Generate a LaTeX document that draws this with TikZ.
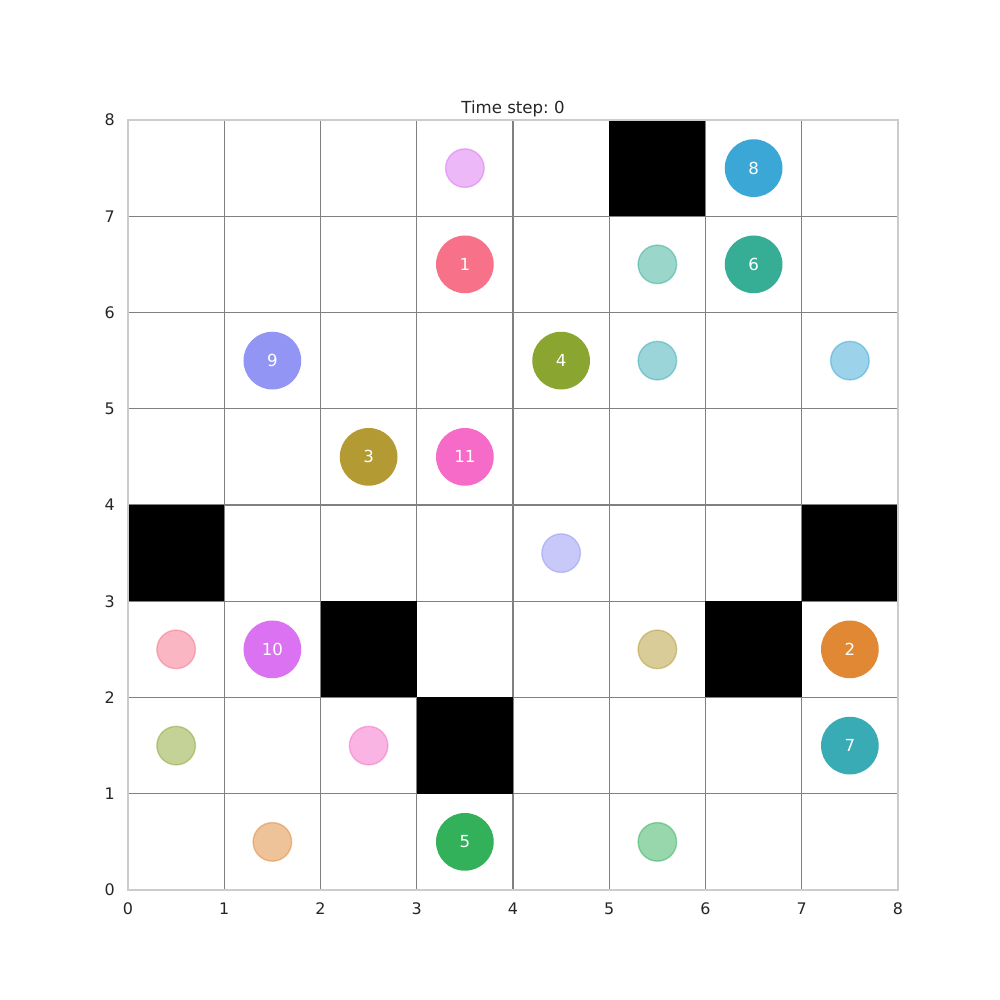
\documentclass[tikz,border=0pt]{standalone}
\usepackage{fontspec}
\setmainfont{DejaVu Sans}
\frenchspacing
\definecolor{txtgray}{HTML}{262626}
\definecolor{gridgray}{HTML}{808080}
\definecolor{framegray}{HTML}{CCCCCC}
\definecolor{ag1}{HTML}{F77189}
\definecolor{ag2}{HTML}{E08834}
\definecolor{ag3}{HTML}{B49A32}
\definecolor{ag4}{HTML}{8AA631}
\definecolor{ag5}{HTML}{33B05A}
\definecolor{ag6}{HTML}{36AE96}
\definecolor{ag7}{HTML}{39ABB4}
\definecolor{ag8}{HTML}{3BA7D6}
\definecolor{ag9}{HTML}{9295F4}
\definecolor{ag10}{HTML}{DB72F2}
\definecolor{ag11}{HTML}{F66BC8}
\usepackage{tikz}
\usetikzlibrary{positioning}

\begin{document}
\begin{tikzpicture}[
  x=2.44475cm,y=2.44475cm,
  gridline/.style={gridgray,line width=0.8pt},
  wall/.style={fill=black},
  agent/.style={circle,inner sep=0pt,minimum size=1.4669cm,fill=#1,
    text=white,font=\fontsize{12}{14}\selectfont},
  goal/.style={circle,inner sep=0pt,minimum size=0.978cm,draw=#1,fill=#1,
    line width=1pt,opacity=0.5},
  tick/.style={text=txtgray,font=\fontsize{11.5}{13}\selectfont,inner sep=0pt}
]
\useasboundingbox (-1.3299,-1.1429) rectangle (9.0597,9.2468);
\fill[white] (-1.3299,-1.1429) rectangle (9.0597,9.2468);
% grid
\foreach \i in {1,...,7} {
  \draw[gridline] (\i,0) -- (\i,8);
  \draw[gridline] (0,\i) -- (8,\i);
}
% obstacles
\foreach \x/\y in {5/7,0/3,7/3,2/2,6/2,3/1}
  \fill[wall] (\x,\y) rectangle ++(1,1);
\draw[framegray,line width=1.25pt] (0,0) rectangle (8,8);
% tick labels
\foreach \i in {0,...,8} {
  \node[tick,anchor=north] (xt\i) at (\i,-0.13) {\i};
  \node[tick,anchor=east] (yt\i) at (-0.135,\i) {\i};
}
\node[text=txtgray,font=\fontsize{12}{14}\selectfont,anchor=base] (title) at (4,8.07) {Time step: 0};
% goals
\node[goal=ag1] (g1) at (0.5,2.5) {};
\node[goal=ag2] (g2) at (1.5,0.5) {};
\node[goal=ag3] (g3) at (5.5,2.5) {};
\node[goal=ag4] (g4) at (0.5,1.5) {};
\node[goal=ag5] (g5) at (5.5,0.5) {};
\node[goal=ag6] (g6) at (5.5,6.5) {};
\node[goal=ag7] (g7) at (5.5,5.5) {};
\node[goal=ag8] (g8) at (7.5,5.5) {};
\node[goal=ag9] (g9) at (4.5,3.5) {};
\node[goal=ag10] (g10) at (3.5,7.5) {};
\node[goal=ag11] (g11) at (2.5,1.5) {};
% agents
\node[agent=ag1] (a1) at (3.5,6.5) {1};
\node[agent=ag2] (a2) at (7.5,2.5) {2};
\node[agent=ag3] (a3) at (2.5,4.5) {3};
\node[agent=ag4] (a4) at (4.5,5.5) {4};
\node[agent=ag5] (a5) at (3.5,0.5) {5};
\node[agent=ag6] (a6) at (6.5,6.5) {6};
\node[agent=ag7] (a7) at (7.5,1.5) {7};
\node[agent=ag8] (a8) at (6.5,7.5) {8};
\node[agent=ag9] (a9) at (1.5,5.5) {9};
\node[agent=ag10] (a10) at (1.5,2.5) {10};
\node[agent=ag11] (a11) at (3.5,4.5) {11};
\end{tikzpicture}
\end{document}
